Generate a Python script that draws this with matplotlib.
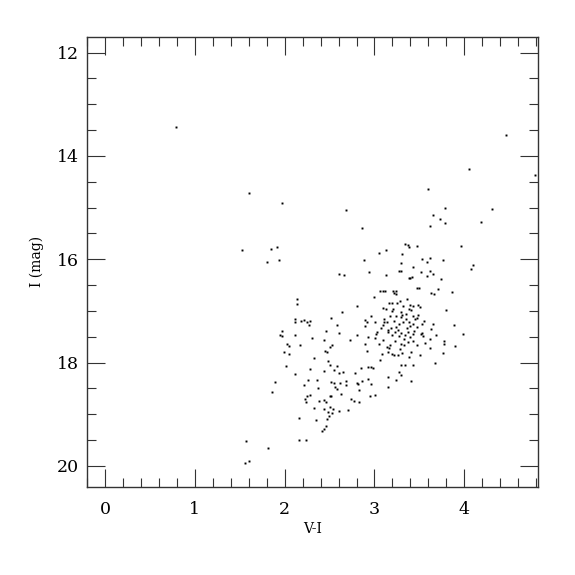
import numpy as np
import matplotlib
matplotlib.use("Agg")
import matplotlib.pyplot as plt
from matplotlib.ticker import MultipleLocator

# V-I colour and I magnitude of the stars
vi = [
    0.79, 4.46, 4.05, 4.79, 1.60, 1.97, 2.68, 3.60, 4.31, 3.79, 3.65, 3.73, 3.78, 4.19,
    3.62, 2.86, 1.52, 1.85, 1.91, 1.80, 1.94, 3.96, 4.08, 4.10,
    # upper giant branch
    3.34, 3.37, 3.38, 3.47, 3.13, 3.05, 2.88, 3.31, 3.30, 3.43, 3.53, 3.59, 3.62, 3.62,
    3.65, 3.52, 3.58, 3.76, 3.30, 3.27, 3.42, 3.38, 3.40, 2.94, 2.61, 2.66, 3.13, 3.74,
    # 16.6 - 17.0
    2.99, 3.06, 3.10, 3.21, 3.22, 3.47, 3.71, 3.63, 3.86, 2.80, 2.14, 2.14, 3.36, 3.28,
    3.19, 3.16, 3.25, 3.39, 3.43, 3.48, 3.10, 3.13, 3.32, 3.38, 3.41, 3.51,
    # 17.0 - 17.37
    3.80, 2.64, 2.96, 3.43, 3.47, 3.49, 3.17, 3.24, 3.31, 3.35, 3.11, 3.11, 2.90, 3.01,
    3.14, 3.22, 3.27, 3.32, 3.38, 3.43, 3.55, 3.53, 3.65, 3.63, 3.89, 2.52, 2.11, 2.11,
    2.18, 2.22, 2.25, 2.28, 2.27, 2.58, 2.92, 3.07, 3.18, 3.24, 3.36, 3.47, 2.90,
    # 17.37 - 17.72
    1.97, 1.95, 1.97, 2.11, 2.46, 2.61, 2.31, 2.81, 2.93, 3.02, 3.03, 3.01, 3.05, 3.09,
    3.15, 3.19, 3.23, 3.27, 3.30, 3.34, 3.37, 3.39, 3.43, 3.54, 3.53, 3.52, 3.68, 3.62,
    3.99, 3.47, 3.77, 3.77, 3.90, 3.62, 2.73, 2.89, 3.14, 3.17, 3.23, 3.29, 3.33, 3.43,
    2.03, 2.05, 2.17, 2.53, 2.51, 2.44,
    # 17.72 - 18.07
    1.99, 2.05, 2.45, 2.47, 2.33, 2.92, 3.08, 3.06, 3.15, 3.16, 3.19, 3.22, 3.26, 3.31,
    3.38, 3.41, 3.51, 3.76, 3.67, 2.48, 2.50, 2.01, 2.93, 2.96, 2.98, 2.85, 3.29, 3.34,
    3.43,
    # 18.07 - 18.43
    2.11, 2.28, 2.58, 2.55, 2.44, 2.60, 2.65, 2.78, 3.27, 3.29, 3.15, 2.96, 2.93, 2.80,
    2.82, 2.86, 3.24, 3.41, 2.26, 2.36, 2.52, 2.55, 2.62, 2.68, 1.89, 2.22,
    # 18.43 - 18.78
    3.15, 2.56, 2.58, 2.68, 2.83, 2.63, 3.01, 2.95, 1.86, 2.37, 2.50, 2.52, 2.25, 2.23,
    2.28, 2.83, 2.74, 2.77, 2.44, 2.46, 2.24, 2.38,
    # fainter
    2.70, 2.60, 2.33, 2.51, 2.54, 2.48, 2.49, 2.44, 2.53, 2.35, 2.16, 2.47, 2.46, 2.44,
    2.42, 2.16, 2.24, 1.57, 1.82, 1.60, 1.56,
    # extra core stars
    3.12, 3.24, 3.24, 3.50, 3.66, 3.20, 3.29, 3.35, 3.45, 3.40, 3.26, 3.33, 3.15, 3.37,
    3.21, 3.30, 3.44, 3.09, 3.56, 3.28,
]
imag = [
    13.44, 13.59, 14.26, 14.36, 14.71, 14.91, 15.04, 14.63, 15.02, 15.00, 15.15, 15.22, 15.29, 15.28,
    15.36, 15.39, 15.82, 15.81, 15.76, 16.06, 16.01, 15.75, 16.18, 16.11,
    15.70, 15.72, 15.77, 15.75, 15.82, 15.88, 16.01, 15.89, 16.08, 16.14, 16.00, 16.05, 15.97, 16.23,
    16.28, 16.24, 16.32, 16.01, 16.22, 16.22, 16.35, 16.37, 16.36, 16.25, 16.28, 16.30, 16.30, 16.38,
    16.73, 16.61, 16.61, 16.61, 16.66, 16.55, 16.57, 16.66, 16.63, 16.90, 16.76, 16.87, 16.76, 16.81,
    16.85, 16.84, 16.85, 16.88, 16.90, 16.89, 16.94, 16.96, 16.91, 16.96, 16.98, 16.93,
    16.98, 17.02, 17.10, 17.10, 17.13, 17.07, 17.10, 17.10, 17.07, 17.15, 17.16, 17.22, 17.17, 17.22,
    17.22, 17.20, 17.26, 17.22, 17.21, 17.25, 17.19, 17.26, 17.26, 17.34, 17.28, 17.13, 17.15, 17.22,
    17.20, 17.17, 17.22, 17.20, 17.28, 17.27, 17.21, 17.33, 17.33, 17.31, 17.33, 17.32, 17.30,
    17.39, 17.46, 17.49, 17.47, 17.39, 17.42, 17.52, 17.46, 17.51, 17.45, 17.41, 17.52, 17.64, 17.57,
    17.41, 17.47, 17.41, 17.49, 17.42, 17.47, 17.41, 17.51, 17.44, 17.49, 17.42, 17.45, 17.46, 17.54,
    17.44, 17.65, 17.58, 17.64, 17.67, 17.71, 17.56, 17.64, 17.70, 17.66, 17.59, 17.63, 17.66, 17.59,
    17.64, 17.67, 17.65, 17.65, 17.69, 17.56,
    17.79, 17.83, 17.78, 17.79, 17.92, 17.78, 17.84, 17.94, 17.79, 17.72, 17.83, 17.86, 17.85, 17.81,
    17.90, 17.79, 17.85, 17.81, 18.00, 17.97, 18.04, 18.06, 18.08, 18.08, 18.10, 18.10, 18.04, 18.05,
    18.05,
    18.22, 18.12, 18.07, 18.15, 18.16, 18.20, 18.18, 18.21, 18.18, 18.24, 18.27, 18.42, 18.32, 18.39,
    18.41, 18.36, 18.34, 18.36, 18.34, 18.33, 18.37, 18.39, 18.39, 18.36, 18.38, 18.44,
    18.48, 18.48, 18.52, 18.43, 18.53, 18.61, 18.62, 18.65, 18.57, 18.50, 18.64, 18.65, 18.65, 18.70,
    18.63, 18.77, 18.71, 18.74, 18.73, 18.76, 18.77, 18.75,
    18.92, 18.94, 18.87, 18.85, 18.89, 18.95, 19.03, 18.89, 18.98, 19.12, 19.07, 19.09, 19.23, 19.28,
    19.33, 19.50, 19.50, 19.52, 19.66, 19.91, 19.94,
    16.62, 16.62, 16.68, 16.56, 16.67, 17.00, 17.02, 17.05, 17.16, 17.30, 17.37, 17.55, 17.36, 17.60,
    16.96, 17.12, 17.38, 17.28, 17.62, 17.73,
]

plt.rcParams['font.family'] = ['DejaVu Serif']

fig = plt.figure(figsize=(5.75, 5.75), dpi=100)
ax = fig.add_axes([0.1513, 0.1537, 0.7843, 0.7817])

ax.plot(vi, imag, 's', color='black', markersize=1.4, markeredgewidth=0)

ax.set_xlim(-0.2, 4.82)
ax.set_ylim(20.4, 11.7)

ax.xaxis.set_major_locator(MultipleLocator(1))
ax.xaxis.set_minor_locator(MultipleLocator(0.2))
ax.yaxis.set_major_locator(MultipleLocator(2))
ax.yaxis.set_minor_locator(MultipleLocator(0.5))

ax.tick_params(which='both', direction='in', top=True, right=True, width=0.8, color='#333333')
ax.tick_params(which='major', length=13)
ax.tick_params(which='minor', length=6.5)
ax.tick_params(axis='x', which='major', labelsize=12.5, pad=10)
ax.tick_params(axis='y', which='major', labelsize=12.5, pad=6)

for s in ax.spines.values():
    s.set_linewidth(1.0)
    s.set_color('#333333')

ax.set_xlabel('V-I', fontsize=10, labelpad=3)
ax.set_ylabel('I (mag)', fontsize=10, labelpad=9)

fig.savefig('out.png', dpi=100)
